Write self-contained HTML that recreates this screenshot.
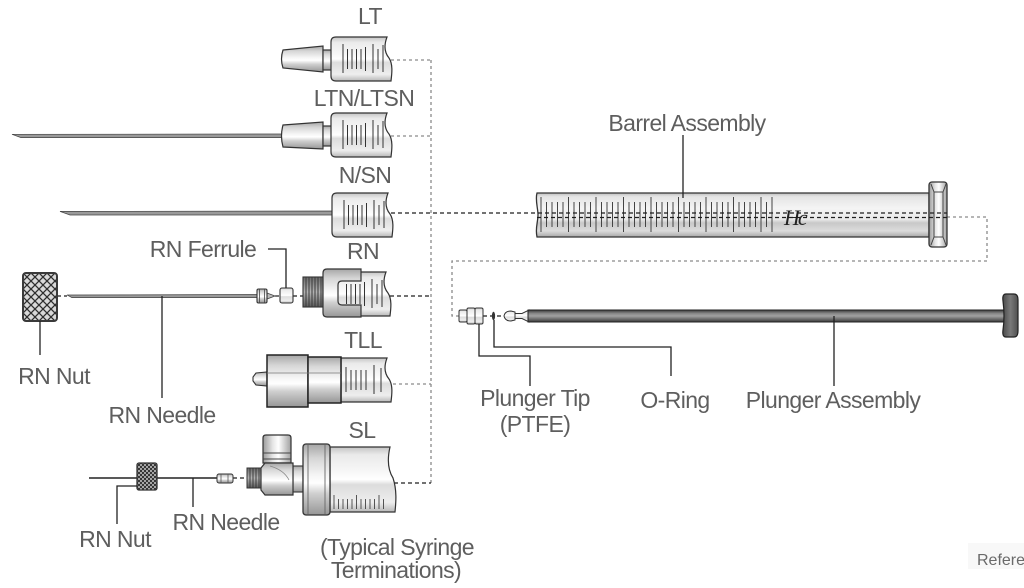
<!DOCTYPE html>
<html>
<head>
<meta charset="utf-8">
<style>
  html,body{margin:0;padding:0;background:#fff;}
  svg{display:block;}
  text{font-family:"Liberation Sans", Arial, sans-serif;fill:#5e5e5e;font-size:23px;letter-spacing:-0.6px;}
</style>
</head>
<body>
<svg width="1024" height="588" viewBox="0 0 1024 588" xmlns="http://www.w3.org/2000/svg">
  <defs>
    <linearGradient id="glass" x1="0" y1="0" x2="0" y2="1">
      <stop offset="0" stop-color="#c4c4c4"/>
      <stop offset="0.12" stop-color="#eaeaea"/>
      <stop offset="0.4" stop-color="#f8f8f8"/>
      <stop offset="0.5" stop-color="#ffffff"/>
      <stop offset="0.58" stop-color="#dcdcdc"/>
      <stop offset="0.85" stop-color="#eeeeee"/>
      <stop offset="1" stop-color="#b8b8b8"/>
    </linearGradient>
    <linearGradient id="bglass" x1="0" y1="0" x2="0" y2="1">
      <stop offset="0" stop-color="#bdbdbd"/>
      <stop offset="0.08" stop-color="#e4e4e4"/>
      <stop offset="0.35" stop-color="#f4f4f4"/>
      <stop offset="0.6" stop-color="#e9e9e9"/>
      <stop offset="0.68" stop-color="#c8c8c8"/>
      <stop offset="0.86" stop-color="#dcdcdc"/>
      <stop offset="1" stop-color="#a8a8a8"/>
    </linearGradient>
    <linearGradient id="metal" x1="0" y1="0" x2="0" y2="1">
      <stop offset="0" stop-color="#a6a6a6"/>
      <stop offset="0.2" stop-color="#d6d6d6"/>
      <stop offset="0.45" stop-color="#f6f6f6"/>
      <stop offset="0.55" stop-color="#ffffff"/>
      <stop offset="0.7" stop-color="#cfcfcf"/>
      <stop offset="1" stop-color="#969696"/>
    </linearGradient>
    <linearGradient id="metalH" x1="0" y1="0" x2="1" y2="0">
      <stop offset="0" stop-color="#9a9a9a"/>
      <stop offset="0.35" stop-color="#e6e6e6"/>
      <stop offset="0.55" stop-color="#ffffff"/>
      <stop offset="1" stop-color="#a0a0a0"/>
    </linearGradient>
    <linearGradient id="rod" x1="0" y1="0" x2="0" y2="1">
      <stop offset="0" stop-color="#3a3a3a"/>
      <stop offset="0.3" stop-color="#8a8a8a"/>
      <stop offset="0.5" stop-color="#a0a0a0"/>
      <stop offset="0.75" stop-color="#6e6e6e"/>
      <stop offset="1" stop-color="#383838"/>
    </linearGradient>
    <linearGradient id="handle" x1="0" y1="0" x2="1" y2="0">
      <stop offset="0" stop-color="#4a4a4a"/>
      <stop offset="0.5" stop-color="#7a7a7a"/>
      <stop offset="1" stop-color="#505050"/>
    </linearGradient>
    <linearGradient id="thread" x1="0" y1="0" x2="0" y2="1">
      <stop offset="0" stop-color="#6a6a6a"/>
      <stop offset="0.5" stop-color="#b4b4b4"/>
      <stop offset="1" stop-color="#5a5a5a"/>
    </linearGradient>
    <pattern id="xh" width="8" height="8" patternUnits="userSpaceOnUse" x="23" y="273">
      <path d="M0 0 L8 8 M8 0 L0 8" stroke="#2e2e2e" stroke-width="1.3" fill="none"/>
    </pattern>
    <pattern id="xh2" width="4" height="4" patternUnits="userSpaceOnUse" x="137" y="463">
      <path d="M0 0 L4 4 M4 0 L0 4" stroke="#2a2a2a" stroke-width="1" fill="none"/>
    </pattern>
  </defs>

  <!-- ============ dashed connectors ============ -->
  <g fill="none" stroke="#8a8a8a" stroke-width="1.3" stroke-dasharray="3 3">
    <line x1="431" y1="60" x2="431" y2="483"/>
    <line x1="391" y1="60" x2="431" y2="60"/>
    <line x1="391" y1="136" x2="431" y2="136"/>
    <line x1="393" y1="384" x2="431" y2="384"/>
    <polyline points="947,217 987,217 987,261 452,261 452,316 459,316"/>
  </g>
  <g fill="none" stroke="#1e1e1e" stroke-width="1.2" stroke-dasharray="4 3">
    <line x1="390" y1="296" x2="431" y2="296"/>
    <line x1="394" y1="483" x2="431" y2="483"/>
    <line x1="57" y1="296" x2="67" y2="296"/>
    <line x1="275" y1="296" x2="280" y2="296"/>
    <line x1="293" y1="296" x2="303" y2="296"/>
    <line x1="233" y1="478" x2="247" y2="478"/>
    <line x1="483" y1="316" x2="504" y2="316"/>
  </g>

  <!-- ============ LT ============ -->
  <path d="M283 50 L323 46 L323 72 L283 68 Q280 59 283 50 Z" fill="url(#metal)" stroke="#333" stroke-width="1.2"/>
  <rect x="323" y="50" width="9" height="20" fill="url(#metal)" stroke="#333" stroke-width="1.2"/>
  <g transform="translate(331,37)">
    <path d="M5 0 L56 0 C53 8 53 15 58 21 C62 27 61 36 60 44 L5 44 Q0 44 0 39 L0 5 Q0 0 5 0 Z" fill="url(#glass)" stroke="#333" stroke-width="1.2"/>
    <g stroke="#333" stroke-width="1">
      <line x1="12" y1="7" x2="12" y2="36"/><line x1="16.5" y1="12" x2="16.5" y2="32"/>
      <line x1="21" y1="12" x2="21" y2="32"/><line x1="25.5" y1="12" x2="25.5" y2="32"/>
      <line x1="30" y1="12" x2="30" y2="32"/><line x1="34.5" y1="10" x2="34.5" y2="34"/>
      <line x1="42" y1="7" x2="42" y2="36"/><line x1="47" y1="12" x2="47" y2="32"/>
      <line x1="52" y1="8" x2="52" y2="35"/>
    </g>
  </g>

  <!-- ============ LTN/LTSN ============ -->
  <polygon points="12,134.3 283,134 283,137.6 21,137.6" fill="#9a9a9a" stroke="#444" stroke-width="0.7"/>
  <path d="M283 125 L323 122 L323 149 L283 147 Q280 136 283 125 Z" fill="url(#metal)" stroke="#333" stroke-width="1.2"/>
  <rect x="323" y="126" width="9" height="20" fill="url(#metal)" stroke="#333" stroke-width="1.2"/>
  <g transform="translate(331,113)">
    <path d="M5 0 L56 0 C53 8 53 15 58 21 C62 27 61 36 60 44 L5 44 Q0 44 0 39 L0 5 Q0 0 5 0 Z" fill="url(#glass)" stroke="#333" stroke-width="1.2"/>
    <g stroke="#333" stroke-width="1">
      <line x1="12" y1="7" x2="12" y2="36"/><line x1="16.5" y1="12" x2="16.5" y2="32"/>
      <line x1="21" y1="12" x2="21" y2="32"/><line x1="25.5" y1="12" x2="25.5" y2="32"/>
      <line x1="30" y1="12" x2="30" y2="32"/><line x1="34.5" y1="10" x2="34.5" y2="34"/>
      <line x1="42" y1="7" x2="42" y2="36"/><line x1="47" y1="12" x2="47" y2="32"/>
      <line x1="52" y1="8" x2="52" y2="35"/>
    </g>
  </g>

  <!-- ============ N/SN ============ -->
  <polygon points="60,211.4 333,211 333,215 70,215" fill="#9a9a9a" stroke="#444" stroke-width="0.7"/>
  <g transform="translate(332,193)">
    <path d="M5 0 L56 0 C53 8 53 15 58 21 C62 27 61 36 60 44 L5 44 Q0 44 0 39 L0 5 Q0 0 5 0 Z" fill="url(#glass)" stroke="#333" stroke-width="1.2"/>
    <g stroke="#333" stroke-width="1">
      <line x1="12" y1="7" x2="12" y2="36"/><line x1="16.5" y1="12" x2="16.5" y2="32"/>
      <line x1="21" y1="12" x2="21" y2="32"/><line x1="25.5" y1="12" x2="25.5" y2="32"/>
      <line x1="30" y1="12" x2="30" y2="32"/><line x1="34.5" y1="10" x2="34.5" y2="34"/>
      <line x1="42" y1="7" x2="42" y2="36"/><line x1="47" y1="12" x2="47" y2="32"/>
      <line x1="52" y1="8" x2="52" y2="35"/>
    </g>
  </g>

  <!-- ============ Barrel Assembly ============ -->
  <path d="M537 193 L929 193 L929 237 L537 237 C535 228 538 222 538 215 C538 208 535 200 537 193 Z" fill="url(#bglass)" stroke="#333" stroke-width="1.3"/>
  <path d="M541 197V232M546.5 202V227M552 202V227M557.5 202V227M563 202V227M568.5 197V232M574 202V227M579.5 202V227M585 202V227M590.5 202V227M596 197V232M601.5 202V227M607 202V227M612.5 202V227M618 202V227M623.5 197V232M629 202V227M634.5 202V227M640 202V227M645.5 202V227M651 197V232M656.5 202V227M662 202V227M667.5 202V227M673 202V227M678.5 197V232M684 202V227M689.5 202V227M695 202V227M700.5 202V227M706 197V232M711.5 202V227M717 202V227M722.5 202V227M728 202V227M733.5 197V232M739 202V227M744.5 202V227M750 202V227M755.5 202V227M761 197V232M766.5 202V227M772 197V232" stroke="#444" stroke-width="1" fill="none"/>
  <text x="784" y="225" style="font-family:'Liberation Serif',serif;font-style:italic;font-size:22px;fill:#222;letter-spacing:-2px;">Hc</text>
  <line x1="929" y1="193" x2="929" y2="237" stroke="#444" stroke-width="1"/>
  <rect x="929" y="182" width="18" height="65" rx="3" fill="url(#metalH)" stroke="#333" stroke-width="1.3"/>
  <polyline points="931,184 934,192 943,192 946,184" fill="none" stroke="#444" stroke-width="1"/>
  <polyline points="931,245 934,237 943,237 946,245" fill="none" stroke="#444" stroke-width="1"/>
  <line x1="934" y1="192" x2="934" y2="237" stroke="#444" stroke-width="1"/>
  <line x1="943" y1="192" x2="943" y2="237" stroke="#444" stroke-width="1"/>
  <g fill="none" stroke="#1e1e1e" stroke-width="1.2" stroke-dasharray="4 3">
    <line x1="391" y1="213" x2="947" y2="213"/>
    <line x1="537" y1="217.5" x2="947" y2="217.5"/>
  </g>
  <line x1="683" y1="135" x2="683" y2="198" stroke="#222" stroke-width="1.3"/>

  <!-- ============ RN ============ -->
  <rect x="23" y="273" width="34" height="48" rx="3" fill="#d8d8d8"/>
  <rect x="23" y="273" width="34" height="48" rx="3" fill="url(#xh)" stroke="#3a3a3a" stroke-width="2"/>
  <polygon points="67,295 257,294.5 257,297.6 72,297.6" fill="#9a9a9a" stroke="#444" stroke-width="0.7"/>
  <path d="M267 293 L275 296 L267 299 Z" fill="#bbb" stroke="#444" stroke-width="0.8"/>
  <rect x="257" y="289" width="10" height="14" rx="1.5" fill="url(#metal)" stroke="#333" stroke-width="1.1"/>
  <line x1="259.5" y1="289" x2="259.5" y2="303" stroke="#444" stroke-width="0.8"/>
  <line x1="264.5" y1="289" x2="264.5" y2="303" stroke="#444" stroke-width="0.8"/>
  <rect x="280" y="288" width="13" height="15" rx="2" fill="url(#glass)" stroke="#333" stroke-width="1.1"/>
  <rect x="303" y="277" width="20" height="30" fill="url(#thread)" stroke="#333" stroke-width="1.1"/>
  <path d="M306 277V307M309 277V307M312 277V307M315 277V307M318 277V307M321 277V307" stroke="#3a3a3a" stroke-width="1"/>
  <g transform="translate(330,272)">
    <path d="M5 0 L56 0 C53 8 53 15 58 21 C62 27 61 36 60 44 L5 44 Q0 44 0 39 L0 5 Q0 0 5 0 Z" fill="url(#glass)" stroke="#333" stroke-width="1.2"/>
    <g stroke="#333" stroke-width="1">
      <line x1="16.5" y1="12" x2="16.5" y2="32"/>
      <line x1="21" y1="12" x2="21" y2="32"/><line x1="25.5" y1="12" x2="25.5" y2="32"/>
      <line x1="30" y1="12" x2="30" y2="32"/><line x1="34.5" y1="10" x2="34.5" y2="34"/>
      <line x1="42" y1="7" x2="42" y2="36"/><line x1="47" y1="12" x2="47" y2="32"/>
      <line x1="52" y1="8" x2="52" y2="35"/>
    </g>
  </g>
  <path d="M327 269 L361 269 L361 281 L342 281 Q338 281 338 285 L338 301 Q338 305 342 305 L361 305 L361 317 L327 317 Q323 317 323 313 L323 273 Q323 269 327 269 Z" fill="url(#metal)" stroke="#333" stroke-width="1.2"/>
  <!-- leaders -->
  <polyline points="268,249 286,249 286,288" fill="none" stroke="#222" stroke-width="1.3"/>
  <line x1="162" y1="296" x2="162" y2="398" stroke="#222" stroke-width="1.3"/>
  <line x1="40" y1="321" x2="40" y2="355" stroke="#222" stroke-width="1.3"/>

  <!-- ============ TLL ============ -->
  <g transform="translate(341,358)">
    <path d="M5 0 L46 0 C43 8 43 15 48 21 C52 27 51 36 50 44 L0 44 L0 0 Z" fill="url(#glass)" stroke="#333" stroke-width="1.2"/>
    <g stroke="#333" stroke-width="1">
      <line x1="5" y1="9" x2="5" y2="34"/><line x1="10" y1="12" x2="10" y2="32"/>
      <line x1="15" y1="12" x2="15" y2="32"/><line x1="20" y1="12" x2="20" y2="32"/>
      <line x1="25" y1="12" x2="25" y2="32"/><line x1="33" y1="7" x2="33" y2="36"/>
      <line x1="40" y1="10" x2="40" y2="34"/>
    </g>
  </g>
  <path d="M256 373 L267 372 L267 386 L256 385 L253 381 L253 377 Z" fill="url(#metal)" stroke="#333" stroke-width="1.1"/>
  <rect x="267" y="355" width="41" height="52" fill="url(#metal)" stroke="#222" stroke-width="1.5"/>
  <rect x="308" y="357" width="33" height="46" fill="url(#metal)" stroke="#222" stroke-width="1.5"/>
  <line x1="267" y1="373" x2="341" y2="373" stroke="#777" stroke-width="0.8"/>

  <!-- ============ SL ============ -->
  <line x1="89" y1="478" x2="217" y2="478" stroke="#222" stroke-width="1.6"/>
  <rect x="137" y="463" width="20" height="27" rx="2" fill="#cfcfcf"/>
  <rect x="137" y="463" width="20" height="27" rx="2" fill="url(#xh2)" stroke="#333" stroke-width="1.3"/>
  <rect x="217" y="474" width="16" height="9" rx="2" fill="url(#metal)" stroke="#333" stroke-width="1"/>
  <line x1="221" y1="474" x2="221" y2="483" stroke="#555" stroke-width="0.8"/>
  <line x1="228" y1="474" x2="228" y2="483" stroke="#555" stroke-width="0.8"/>
  <rect x="247" y="468" width="14" height="20" fill="url(#thread)" stroke="#333" stroke-width="1"/>
  <path d="M250 468V488M253 468V488M256 468V488M259 468V488" stroke="#333" stroke-width="0.9"/>
  <path d="M266 435 L288 435 Q291 435 291 438 L291 463 L263 463 L263 438 Q263 435 266 435 Z" fill="url(#metalH)" stroke="#333" stroke-width="1.2"/>
  <line x1="263" y1="453" x2="291" y2="453" stroke="#444" stroke-width="1"/>
  <line x1="263" y1="459" x2="291" y2="459" stroke="#444" stroke-width="1"/>
  <rect x="293" y="466" width="10" height="26" fill="url(#metal)" stroke="#333" stroke-width="1.1"/>
  <path d="M265 463 L293 463 L293 495 L265 495 L261 490 L261 468 Z" fill="url(#metal)" stroke="#333" stroke-width="1.2"/>
  <path d="M270 466 Q284 470 289 480" fill="none" stroke="#888" stroke-width="0.8"/>
  <path d="M330 447 L390 447 C387 460 388 470 393 478 C397 490 396 502 395 512 L330 512 Z" fill="url(#glass)" stroke="#333" stroke-width="1.2"/>
  <path d="M334 495V509M338.5 499V509M343 499V509M347.5 499V509M352 499V509M356.5 495V509M361 499V509M365.5 499V509M370 499V509M374.5 499V509M379 495V509M383.5 499V509" stroke="#444" stroke-width="0.9"/>
  <rect x="303" y="444" width="27" height="71" rx="3" fill="url(#metal)" stroke="#333" stroke-width="1.3"/>
  <line x1="308" y1="445" x2="308" y2="514" stroke="#666" stroke-width="0.9"/>
  <line x1="325" y1="445" x2="325" y2="514" stroke="#666" stroke-width="0.9"/>
  <!-- SL leaders -->
  <polyline points="137,486 117,486 117,524" fill="none" stroke="#222" stroke-width="1.3"/>
  <line x1="193" y1="478" x2="193" y2="507" stroke="#222" stroke-width="1.3"/>

  <!-- ============ Plunger ============ -->
  <rect x="459" y="310" width="8" height="12" rx="1.5" fill="url(#glass)" stroke="#333" stroke-width="1"/>
  <rect x="467" y="308" width="8" height="16" rx="1.5" fill="url(#glass)" stroke="#333" stroke-width="1"/>
  <rect x="475" y="308" width="8" height="16" rx="1.5" fill="url(#glass)" stroke="#333" stroke-width="1"/>
  <ellipse cx="493.5" cy="316" rx="1.6" ry="4.2" fill="#333"/>
  <path d="M504 316 Q505 311 511 311 L515 312 L515 320 L511 321 Q505 321 504 316 Z" fill="url(#glass)" stroke="#333" stroke-width="1"/>
  <path d="M515 313.5 L522 313.5 L529 310 L529 322 L522 318.5 L515 318.5 Z" fill="url(#glass)" stroke="#333" stroke-width="1"/>
  <rect x="528" y="310" width="477" height="12" fill="url(#rod)" stroke="#222" stroke-width="1"/>
  <path d="M1006 294 L1014 294 Q1018 294 1018 300 L1018 331 Q1018 337 1014 337 L1006 337 Q1002 337 1003 330 Q1005 316 1003 301 Q1002 294 1006 294 Z" fill="url(#handle)" stroke="#222" stroke-width="1.2"/>
  <!-- plunger leaders -->
  <polyline points="479,324 479,356 530,356 530,386" fill="none" stroke="#222" stroke-width="1.3"/>
  <polyline points="494,320 494,347 671,347 671,376" fill="none" stroke="#222" stroke-width="1.3"/>
  <line x1="834" y1="316" x2="834" y2="386" stroke="#222" stroke-width="1.3"/>

  <!-- ============ labels ============ -->
  <text x="370" y="24" text-anchor="middle">LT</text>
  <text x="364" y="106" text-anchor="middle">LTN/LTSN</text>
  <text x="365" y="183" text-anchor="middle">N/SN</text>
  <text x="203" y="257" text-anchor="middle">RN Ferrule</text>
  <text x="363" y="259" text-anchor="middle">RN</text>
  <text x="363" y="348" text-anchor="middle">TLL</text>
  <text x="54" y="384" text-anchor="middle">RN Nut</text>
  <text x="162" y="423" text-anchor="middle">RN Needle</text>
  <text x="362" y="438" text-anchor="middle">SL</text>
  <text x="226" y="530" text-anchor="middle">RN Needle</text>
  <text x="115" y="547" text-anchor="middle">RN Nut</text>
  <text x="397" y="555" text-anchor="middle">(Typical Syringe</text>
  <text x="396" y="578" text-anchor="middle">Terminations)</text>
  <text x="687" y="131" text-anchor="middle">Barrel Assembly</text>
  <text x="535" y="406" text-anchor="middle">Plunger Tip</text>
  <text x="535" y="432" text-anchor="middle">(PTFE)</text>
  <text x="675" y="408" text-anchor="middle">O-Ring</text>
  <text x="833" y="408" text-anchor="middle">Plunger Assembly</text>
  <rect x="968" y="543" width="56" height="26" fill="#f8f8f8"/>
  <text x="977" y="565" style="font-size:16px;letter-spacing:0;fill:#6a6a6a;">Refere</text>
</svg>
</body>
</html>
